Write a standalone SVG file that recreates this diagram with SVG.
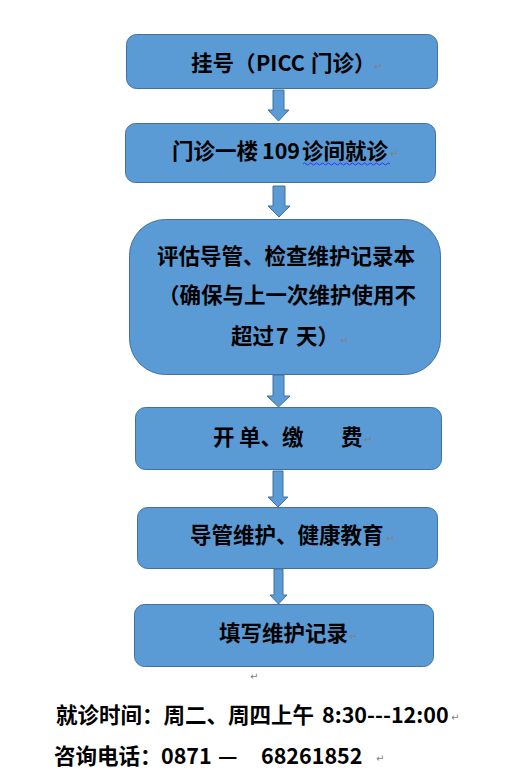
<svg xmlns="http://www.w3.org/2000/svg" width="523" height="783" viewBox="0 0 523 783">
<style>
.box{fill:#5B9BD5;stroke:#41719C;stroke-width:1}
.arr{fill:#5B9BD5;stroke:#41719C;stroke-width:1}
.t{font-family:"Noto Sans CJK SC","Liberation Sans",sans-serif;font-size:21.5px;font-weight:bold;fill:#000}
.b{font-family:"Noto Sans CJK SC","Liberation Sans",sans-serif;font-size:21.5px;font-weight:bold;fill:#000}
.pm{font-family:"DejaVu Sans",sans-serif;font-size:10px;fill:#808080}
</style>
<rect width="523" height="783" fill="#fff"/>
<g id="connectors">
<path class="arr" d="M273,90 H284 V110 H289 L278.5,121 L268,110 H273 Z"/>
<path class="arr" d="M273,186 H285 V206 H290 L279,217 L268,206 H273 Z"/>
<path class="arr" d="M273,375 H284 V396 H290 L278.5,407 L267,396 H273 Z"/>
<path class="arr" d="M273,471 H283 V497 H288 L278,507 L268,497 H273 Z"/>
<path class="arr" d="M274,569 H283 V595 H287 L278.5,604 L270,595 H274 Z"/>
</g>
<g id="n1">
<rect class="box" x="126.5" y="34.5" width="311" height="54" rx="10"/>
<text class="t" y="71"><tspan x="191">挂号</tspan><tspan x="234">（</tspan><tspan x="256">PICC</tspan><tspan x="311">门诊）</tspan></text>
<text class="pm" x="374" y="70">↵</text>
</g>
<g id="n2">
<rect class="box" x="125.5" y="123.5" width="310" height="59" rx="10"/>
<text class="t" y="159"><tspan x="172">门诊一楼</tspan><tspan x="262">109</tspan><tspan x="302">诊间就诊</tspan></text>
<path d="M303,164 q1.5,-2 3,0 t3,0 t3,0 t3,0 t3,0 t3,0 t3,0 t3,0 t3,0 t3,0 t3,0 t3,0 t3,0 t3,0 t3,0 t3,0 t3,0 t3,0 t3,0 t3,0 t3,0 t3,0 t3,0 t3,0 t3,0 t3,0 t3,0 t3,0 t3,0" fill="none" stroke="#3333ff" stroke-width="1"/>
<text class="pm" x="390" y="157">↵</text>
</g>
<g id="n3">
<rect class="box" x="129.5" y="219.5" width="311" height="155" rx="36"/>
<text class="t" x="157" y="264">评估导管、检查维护记录本</text>
<text class="t" x="158" y="303">（确保与上一次维护使用不</text>
<text class="t" y="344"><tspan x="231">超过</tspan><tspan x="276">7</tspan><tspan x="296">天）</tspan></text>
<text class="pm" x="340" y="344">↵</text>
</g>
<g id="n4">
<rect class="box" x="135.5" y="407.5" width="306" height="62" rx="10"/>
<text class="t" y="445"><tspan x="213">开</tspan><tspan x="239">单、缴</tspan><tspan x="341">费</tspan></text>
<text class="pm" x="364" y="443">↵</text>
</g>
<g id="n5">
<rect class="box" x="137.5" y="507.5" width="300" height="61" rx="10"/>
<text class="t" x="190" y="543">导管维护、健康教育</text>
<text class="pm" x="386" y="542">↵</text>
</g>
<g id="n6">
<rect class="box" x="134.5" y="604.5" width="299" height="62" rx="10"/>
<text class="t" x="219" y="641">填写维护记录</text>
<text class="pm" x="349" y="640">↵</text>
</g>
<text class="pm" x="250" y="680">↵</text>
<text class="b" y="723"><tspan x="56">就诊时间：周二、周四上午</tspan><tspan x="322">8:30---12:00</tspan></text>
<text class="pm" x="451" y="721">↵</text>
<text class="b" y="764"><tspan x="54">咨询电话：</tspan><tspan x="161">0871</tspan><tspan x="218">—</tspan><tspan x="261">68261852</tspan></text>
<text class="pm" x="376" y="762">↵</text>
</svg>
